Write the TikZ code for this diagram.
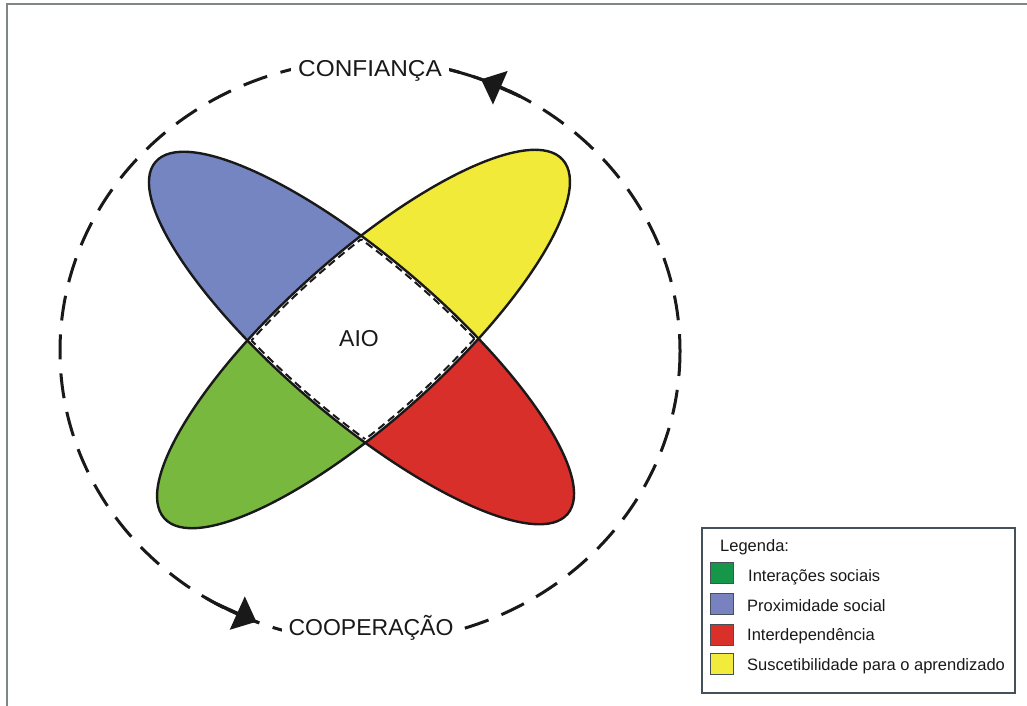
\documentclass[tikz,border=0pt]{standalone}
\usepackage{fontspec}
\setmainfont{Liberation Sans}
\usepackage{graphicx}
\usetikzlibrary{arrows.meta}
\definecolor{petblue}{RGB}{117,133,193}
\definecolor{petyellow}{RGB}{241,234,57}
\definecolor{petgreen}{RGB}{120,184,62}
\definecolor{petred}{RGB}{217,47,42}
\definecolor{leggreen}{RGB}{22,150,72}
\definecolor{legblue}{RGB}{120,130,192}
\definecolor{legred}{RGB}{217,48,42}
\definecolor{legyellow}{RGB}{242,235,60}
\definecolor{framegray}{RGB}{128,134,134}
\definecolor{boxline}{RGB}{70,80,88}
\definecolor{ink}{RGB}{25,25,25}
\begin{document}
\begin{tikzpicture}[x=1pt,y=-1pt,
  ellA/.style={shift={(361.5,338)},rotate=-40.5},
  ellB/.style={shift={(363.5,339)},rotate=42},
  outline/.style={draw=ink,line width=2.4pt},
  diamdash/.style={draw=ink,line width=2pt,dash pattern=on 8pt off 4.5pt},
  ring/.style={draw=ink,line width=3pt,dash pattern=on 25pt off 14pt},
  ringsolid/.style={draw=ink,line width=3pt},
  bigtxt/.style={font=\fontsize{23}{27}\selectfont,text=ink,inner xsep=7pt,inner ysep=2pt},
  legtxt/.style={font=\fontsize{16.5}{19}\selectfont,text=ink,inner sep=0pt,anchor=base west},
  swatch/.style={draw=boxline,line width=0.8pt,minimum width=23pt,minimum height=21pt,inner sep=0pt},
  tip/.style={-{Triangle[length=21pt,width=36pt]}}
]
\useasboundingbox (0,0) rectangle (1027,706);
\fill[white] (0,0) rectangle (1027,706);
\draw[framegray,line width=2pt] (6.5,706) -- (6.5,4.5) -- (1027,4.5);

% dashed ring
\draw[ring] (370,351) ellipse [x radius=310,y radius=291];
\draw[ringsolid] plot[domain=61:75,samples=30] ({370+310*cos(\x)},{351-291*sin(\x)});
\draw[ringsolid] plot[domain=238:249,samples=30] ({370+310*cos(\x)},{351-291*sin(\x)});
\coordinate (ta) at ({370+310*cos(61)},{351-291*sin(61)});
\coordinate (tb) at ({370+310*cos(69)},{351-291*sin(69)});
\coordinate (ba) at ({370+310*cos(240)},{351-291*sin(240)});
\coordinate (bb) at ({370+310*cos(248.5)},{351-291*sin(248.5)});
\draw[tip,ringsolid] (ta) -- (tb);
\draw[tip,ringsolid] (ba) -- (bb);

% petals
\begin{scope}[ellA]
  \clip (0,0) ellipse [x radius=271,y radius=80];
  \fill[petblue] (-300,-100) rectangle (0,100);
  \fill[petred] (0,-100) rectangle (300,100);
\end{scope}
\begin{scope}[ellB]
  \clip (0,0) ellipse [x radius=268,y radius=81];
  \fill[petgreen] (-300,-100) rectangle (0,100);
  \fill[petyellow] (0,-100) rectangle (300,100);
\end{scope}
\begin{scope}
  \clip[ellA] (0,0) ellipse [x radius=271,y radius=80];
  \fill[white,ellB] (0,0) ellipse [x radius=268,y radius=81];
\end{scope}
\path[outline,ellA] (0,0) ellipse [x radius=271,y radius=80];
\path[outline,ellB] (0,0) ellipse [x radius=268,y radius=81];

% dashed inner border of AIO
\begin{scope}[shift={(362,339)},scale=0.965,shift={(-362,-339)}]
  \begin{scope}
    \clip[ellA] (0,0) ellipse [x radius=271,y radius=80];
    \path[diamdash,ellB] (0,0) ellipse [x radius=268,y radius=81];
  \end{scope}
  \begin{scope}
    \clip[ellB] (0,0) ellipse [x radius=268,y radius=81];
    \path[diamdash,ellA] (0,0) ellipse [x radius=271,y radius=80];
  \end{scope}
\end{scope}

% labels
\node[bigtxt,anchor=base] (aio) at (359,346.5) {AIO};
\node[bigtxt,anchor=base,fill=white,inner ysep=6pt] (conf) at (370,77) {\scalebox{1.06}[1]{CONFIANÇA}};
\node[bigtxt,anchor=base,fill=white,inner ysep=8pt] (coop) at (371,635) {COOPERAÇÃO};

% legend
\node[draw=boxline,line width=1.3pt,fill=white,minimum width=313pt,minimum height=165pt,inner sep=0pt] (legend) at (858.5,610.5) {};
\node[legtxt] (legt) at (720,551.5) {Legenda:};
\node[swatch,fill=leggreen] (s1) at (721.5,573) {};
\node[swatch,fill=legblue] (s2) at (721.5,603.5) {};
\node[swatch,fill=legred] (s3) at (721.5,634.5) {};
\node[swatch,fill=legyellow] (s4) at (721.5,664) {};
\node[legtxt] (l1) at (748,581) {Interações sociais};
\node[legtxt] (l2) at (747,611) {Proximidade social};
\node[legtxt] (l3) at (747,640.5) {Interdependência};
\node[legtxt] (l4) at (747,670) {Suscetibilidade para o aprendizado};
\end{tikzpicture}
\end{document}
